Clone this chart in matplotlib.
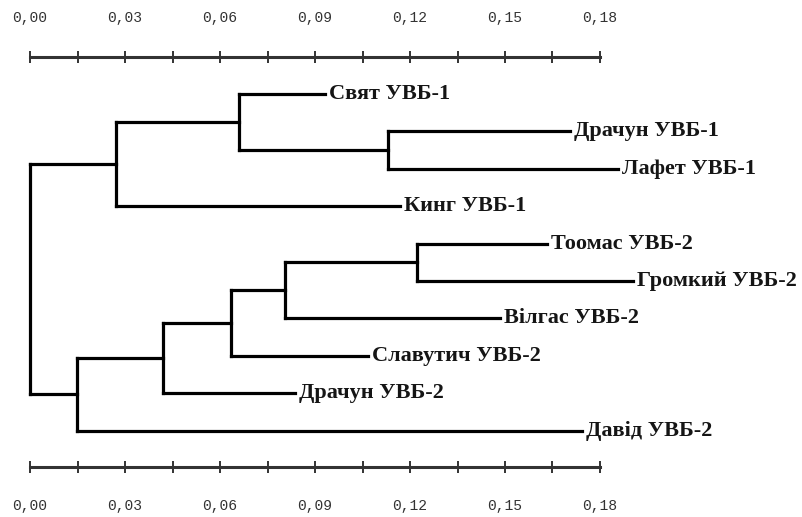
import matplotlib
matplotlib.use("Agg")
import matplotlib.pyplot as plt
from matplotlib.ticker import MultipleLocator, FuncFormatter

# leaves, top to bottom, and the distance where each branch ends
leaves = ["Свят УВБ-1", "Драчун УВБ-1", "Лафет УВБ-1", "Кинг УВБ-1",
          "Тоомас УВБ-2", "Громкий УВБ-2", "Вілгас УВБ-2", "Славутич УВБ-2",
          "Драчун УВБ-2", "Давід УВБ-2"]
leaf_dist = [0.0932, 0.1705, 0.1857, 0.1168, 0.1633, 0.1904, 0.1484,
             0.1067, 0.0837, 0.1743]

# joins: (child a, child b, distance of the join); new nodes numbered from 10
merge_a = [1, 0, 11, 4, 13, 14, 15, 16, 12]
merge_b = [2, 10, 3, 5, 6, 7, 8, 9, 17]
merge_dist = [0.1131, 0.0660, 0.0272, 0.1222, 0.0805, 0.0635, 0.0420,
              0.0148, 0.0]

fig = plt.figure(figsize=(8.02, 5.17), dpi=100)
ax = fig.add_axes([30 / 802, 50 / 517, 570 / 802, 410 / 517])

node_x = list(leaf_dist)
node_y = list(range(len(leaves)))
lw = 2.3
for a, b, d in zip(merge_a, merge_b, merge_dist):
    ya, yb = node_y[a], node_y[b]
    ax.plot([d, d], [ya, yb], color="black", lw=lw, clip_on=False,
            solid_capstyle="projecting")
    for c in (a, b):
        ax.plot([d, node_x[c]], [node_y[c], node_y[c]], color="black", lw=lw,
                clip_on=False, solid_capstyle="projecting")
    node_x.append(d)
    node_y.append((ya + yb) / 2)

for i, name in enumerate(leaves):
    ax.text(leaf_dist[i] + 0.0012, i, name, va="center", ha="left",
            fontsize=16, fontweight="bold", family="Liberation Serif",
            color="#151515", clip_on=False)

ax.set_xlim(0, 0.18)
ax.set_ylim(9.973, -0.989)
for s in ["left", "right"]:
    ax.spines[s].set_visible(False)
for s in ["top", "bottom"]:
    ax.spines[s].set_linewidth(2.2)
    ax.spines[s].set_color("#333333")
ax.set_yticks([])
ax.xaxis.set_major_locator(MultipleLocator(0.03))
ax.xaxis.set_minor_locator(MultipleLocator(0.015))
ax.xaxis.set_major_formatter(FuncFormatter(lambda v, p: f"{v:.2f}".replace(".", ",")))
ax.tick_params(axis="x", which="both", top=True, bottom=True, labeltop=True,
               labelbottom=True, direction="inout", length=8, width=1.4,
               color="#333333", pad=19, labelsize=10.5, labelcolor="#333333")
for lab in ax.get_xticklabels(which="both"):
    lab.set_family("Liberation Mono")

fig.savefig("out.png", dpi=100)
